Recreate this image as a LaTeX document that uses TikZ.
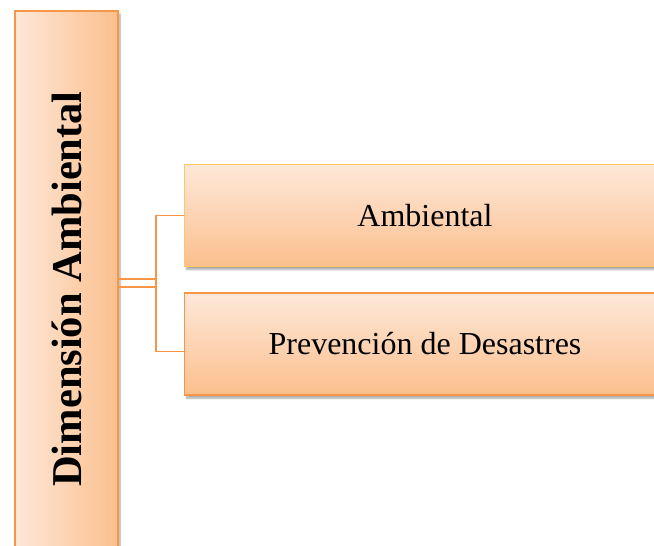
\documentclass[tikz,border=0pt]{standalone}
\usepackage{fontspec}
\setmainfont{Liberation Serif}
\usetikzlibrary{shadows.blur}
\definecolor{edgeor}{HTML}{F79646}
\definecolor{edgeyl}{HTML}{FFC766}
\definecolor{light}{HTML}{FDE8D9}
\definecolor{dark}{HTML}{FBBF8D}
\begin{document}
\begin{tikzpicture}[x=1pt,y=-1pt]
\useasboundingbox (0,0) rectangle (654,546);
\tikzset{
  shade/.style={blur shadow={shadow xshift=2pt, shadow yshift=-3pt, shadow blur steps=6, shadow opacity=35}},
  dimbox/.style={shade, draw=edgeor, line width=1.3pt, left color=light, right color=dark,
    minimum width=103pt, minimum height=562pt, inner sep=0pt},
  itembox/.style={shade, line width=1.3pt, top color=light, bottom color=dark,
    minimum width=481pt, minimum height=102pt, inner sep=0pt,
    font=\fontsize{32}{38}\selectfont},
  conn/.style={draw=edgeor, line width=1.5pt}
}
\node[dimbox] (dim) at (66.5,292) {};
\node[rotate=90, font=\fontsize{42.5}{50}\selectfont\bfseries] (dimtxt) at ([yshift=3pt]dim.center) {Dimensión Ambiental};
\node[itembox, draw=edgeyl] (amb) at (425,215.5) {Ambiental};
\node[itembox, draw=edgeor] (prev) at (425,344) {Prevención de Desastres};
\coordinate (j) at (156,283);
\coordinate (jt) at (156,215.7);
\coordinate (jb) at (156,351.7);
\draw[conn] ([yshift=-4pt]dim.east |- j) -- ([yshift=-4pt]j);
\draw[conn] ([yshift=4pt]dim.east |- j) -- ([yshift=4pt]j);
\draw[conn] (amb.west |- jt) -- (jt) -- (jb) -- (prev.west |- jb);
\end{tikzpicture}
\end{document}
